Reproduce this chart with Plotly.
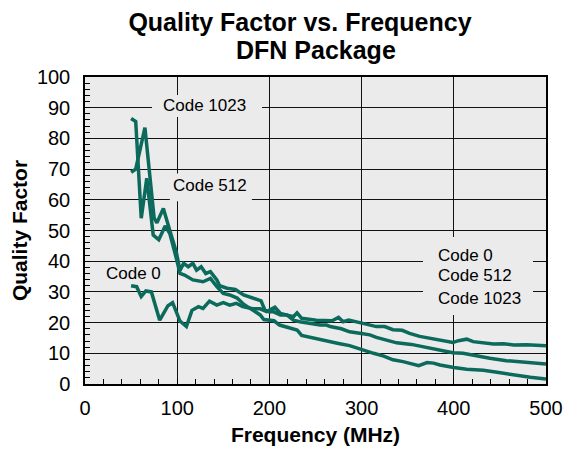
import plotly.graph_objects as go

# Frequency (MHz) / Quality Factor per code
freq_code0 = [50, 56, 61, 66, 72, 81, 90, 95, 103, 110, 116, 123, 128, 135, 143, 150, 157, 164, 171,
              182, 190, 197, 206, 212, 226, 230, 235, 251, 268, 275, 280, 286, 298, 309, 316, 325,
              334, 344, 352, 363, 374, 385, 394, 399, 405, 414, 421, 432, 443, 454, 465, 479, 494, 500]
q_code0 = [32, 31.7, 28.5, 30.3, 30, 20.8, 25.5, 26.5, 20.5, 18.7, 24, 25.2, 24.6, 27, 25.7, 26.5, 25.7, 26.3, 25.2,
           24.5, 24.5, 23.6, 25, 23, 21.9, 23.2, 21.4, 20.8, 20.6, 21.7, 20.3, 20.8, 20, 19.2, 18.7, 18.7,
           17.7, 17.5, 16.5, 15.5, 14.9, 14.3, 13.6, 13.5, 14.1, 14.6, 13.8, 13.4, 13, 13.1, 12.7, 12.8, 12.6, 12.5]

freq_code512 = [50, 55, 65, 75, 78, 85, 92, 99, 103, 107, 112, 117, 121, 126, 131, 136, 143, 146, 154, 163,
                172, 182, 191, 195, 200, 204, 212, 219, 226, 233, 244, 255, 262, 266, 278, 287, 298, 309,
                316, 327, 338, 354, 363, 374, 385, 399, 410, 425, 439, 457, 475, 494, 500]
q_code512 = [69, 70, 83.5, 54, 52.5, 57.2, 50, 43, 37, 39.3, 38.2, 39.3, 37.1, 38.2, 36, 36.6, 33.9, 32, 31.2, 30.8,
             29, 27.9, 27.1, 24.1, 23.5, 23.6, 22.5, 22.5, 20.8, 20.3, 19.8, 19.2, 19.2, 18.7, 18, 17, 16.5, 16,
             15.2, 14.3, 13.4, 12.9, 12.4, 11.6, 11, 10.2, 10, 9.1, 8.4, 7.6, 7.2, 6.7, 6.5]

freq_code1023 = [50, 55, 61, 67, 74, 80, 87, 92, 99, 103, 108, 117, 128, 136, 143, 150, 157, 165, 172, 180,
                 190, 194, 201, 205, 211, 222, 230, 235, 244, 255, 263, 275, 287, 300, 313, 324, 334, 345,
                 354, 362, 371, 378, 385, 394, 400, 414, 432, 447, 465, 483, 500]
q_code1023 = [86.5, 85.5, 54, 67, 48.5, 47, 51.5, 49, 41, 36, 35.5, 33.9, 33.3, 34.4, 31.7, 29.5, 29, 28, 26, 24.5,
              22.5, 21, 20.6, 20.6, 19.2, 18.1, 17.6, 15.8, 15.2, 14.3, 13.8, 13.2, 12.5, 11.2, 10, 9.1, 7.9, 7.3,
              6.5, 6, 7, 6.8, 6.2, 5.6, 5.4, 4.8, 4.5, 3.8, 2.9, 2.2, 1.6]

series_names = ["Code 0", "Code 512", "Code 1023"]
x_ticks = [0, 100, 200, 300, 400, 500]
y_ticks = [0, 10, 20, 30, 40, 50, 60, 70, 80, 90, 100]

LINE = "#0b6a5b"
BG = "#ebebeb"
FONT = "Liberation Sans, Arial, Helvetica, sans-serif"

fig = go.Figure()
for name, xs, ys in zip(series_names,
                        [freq_code0, freq_code512, freq_code1023],
                        [q_code0, q_code512, q_code1023]):
    fig.add_trace(go.Scatter(x=xs, y=ys, mode="lines", name=name,
                             line=dict(color=LINE, width=3.5)))

# label backgrounds (cut the grid like the original)
for x0, x1, y0, y1 in [(72.7, 192, 87, 94.1), (92, 181, 59.5, 68.6), (366.6, 485.9, 22.5, 47.9)]:
    fig.add_shape(type="rect", xref="x", yref="y", x0=x0, x1=x1, y0=y0, y1=y1,
                  fillcolor=BG, line=dict(width=0), layer="between")

ann_font = dict(family=FONT, size=17, color="black")
fig.add_annotation(x=130, y=90.6, text="Code 1023", showarrow=False, font=ann_font)
fig.add_annotation(x=135.6, y=64.8, text="Code 512", showarrow=False, font=ann_font)
fig.add_annotation(x=52.6, y=36, text="Code 0", showarrow=False, font=ann_font)
for txt, yy in zip(series_names, [42, 35.2, 28]):
    fig.add_annotation(x=380.7, y=yy, text=txt, showarrow=False, xanchor="left", font=ann_font)

# second title line
fig.add_annotation(xref="paper", yref="paper", x=0.5, y=1.0, yshift=27, yanchor="middle",
                   text="<b>DFN Package</b>", showarrow=False,
                   font=dict(size=25, family=FONT, color="black"))

fig.update_layout(
    width=566, height=443,
    margin=dict(l=77, r=28, t=69, b=67),
    paper_bgcolor="white", plot_bgcolor=BG,
    showlegend=False,
    font=dict(family=FONT, color="black"),
    title=dict(text="<b>Quality Factor vs. Frequency</b>",
               x=292 / 566, xanchor="center", y=1 - 14 / 443, yanchor="middle",
               font=dict(size=25, family=FONT, color="black")),
)
fig.update_xaxes(
    range=[0, 500], tickvals=x_ticks, ticks="inside", ticklen=5, tickcolor="black",
    showgrid=True, gridcolor="#111111", gridwidth=1.2, automargin=False,
    showline=True, linecolor="black", linewidth=1.5, mirror=True, zeroline=False,
    tickfont=dict(size=20, family=FONT), ticklabelstandoff=5,
    minor=dict(dtick=20, ticks="inside", ticklen=5, tickcolor="black", showgrid=False),
    title=dict(text="<b>Frequency (MHz)</b>", font=dict(size=21, family=FONT), standoff=10),
)
fig.update_yaxes(
    range=[0, 100], tickvals=y_ticks, ticks="inside", ticklen=5, tickcolor="black",
    showgrid=True, gridcolor="#111111", gridwidth=1.2, automargin=False,
    showline=True, linecolor="black", linewidth=1.5, mirror=True, zeroline=False,
    tickfont=dict(size=20, family=FONT), ticklabelstandoff=9,
    minor=dict(dtick=2, ticks="inside", ticklen=5, tickcolor="black", showgrid=False),
    title=dict(text="<b>Quality Factor</b>", font=dict(size=21, family=FONT), standoff=8),
)

fig.write_html("out.html")
